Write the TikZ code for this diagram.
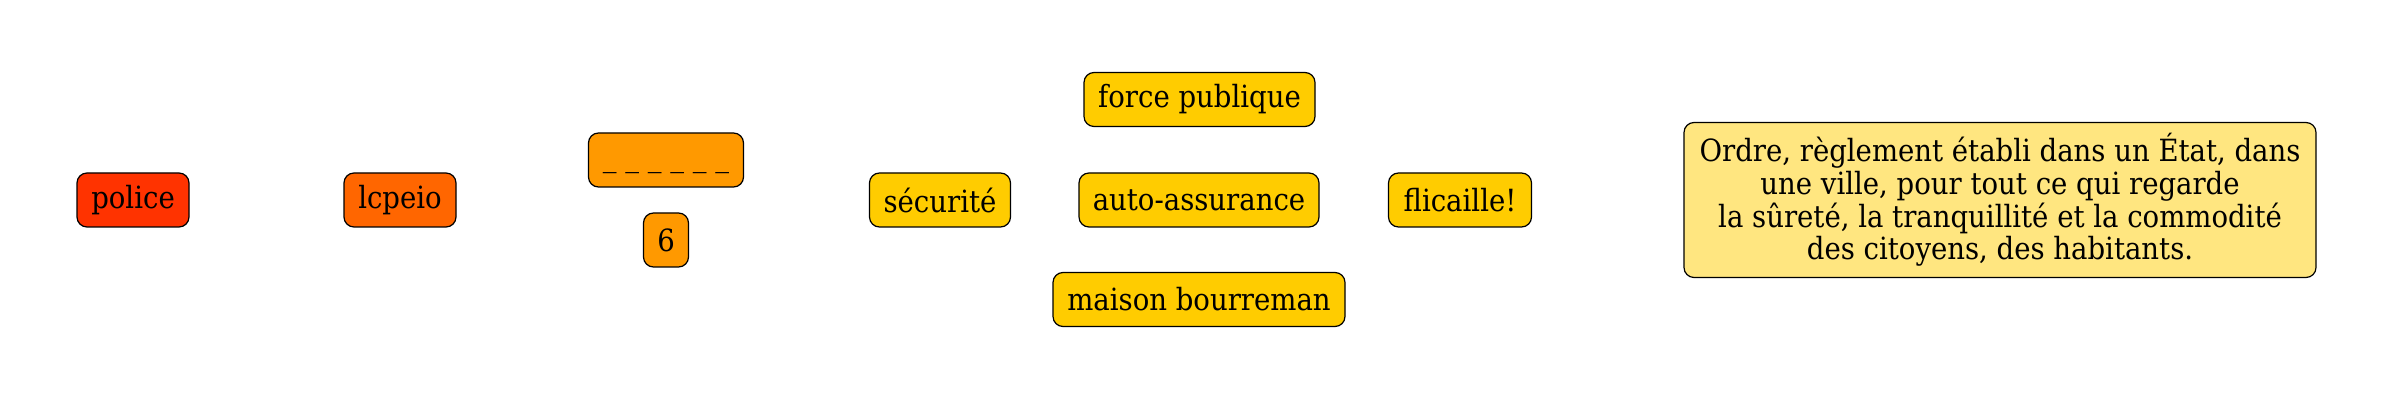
\documentclass[tikz,border=0pt]{standalone}
\usepackage{fontspec}
\setmainfont{DejaVu Serif Condensed}
\definecolor{cpolice}{HTML}{FF3300}
\definecolor{clcpeio}{HTML}{FF6600}
\definecolor{corange}{HTML}{FF9900}
\definecolor{cyellow}{HTML}{FFCC00}
\definecolor{cdef}{HTML}{FFE680}
\tikzset{
  box/.style={draw=black, line width=0.6pt, rounded corners=5pt, inner sep=0pt,
    minimum height=27pt, font=\fontsize{15.3pt}{16pt}\selectfont, text=black, align=center},
}
\begin{document}
\begin{tikzpicture}[x=0.5pt,y=-0.5pt]
\useasboundingbox (0,0) rectangle (2400,400);
\node[box, fill=cpolice, minimum width=56pt] (police) at (133,200) {police};
\node[box, fill=clcpeio, minimum width=56pt] (lcpeio) at (400,200) {lcpeio};
\node[box, fill=corange, minimum width=77.5pt, text height=10pt, text depth=3pt] (blank) at (666,160) {\_ \_ \_ \_ \_ \_};
\node[box, fill=corange, minimum width=22.5pt] (six) at (666,240) {6};
\node[box, fill=cyellow, minimum width=70.5pt] (secu) at (940,200) {sécurité};
\node[box, fill=cyellow, minimum width=115.5pt] (force) at (1199.5,99.5) {force publique};
\node[box, fill=cyellow, minimum width=120pt] (auto) at (1199,200) {auto-assurance};
\node[box, fill=cyellow, minimum width=146pt] (maison) at (1199,299.5) {maison bourreman};
\node[box, fill=cyellow, minimum width=71.5pt] (flic) at (1460,200) {flicaille!};
\node[box, fill=cdef, minimum width=316pt, minimum height=77.5pt,
  font=\fontsize{15.3pt}{16.4pt}\selectfont] (def) at (2000,200)
  {Ordre, règlement établi dans un État, dans\\une ville, pour tout ce qui regarde\\la sûreté, la tranquillité et la commodité\\des citoyens, des habitants.};
\end{tikzpicture}
\end{document}
